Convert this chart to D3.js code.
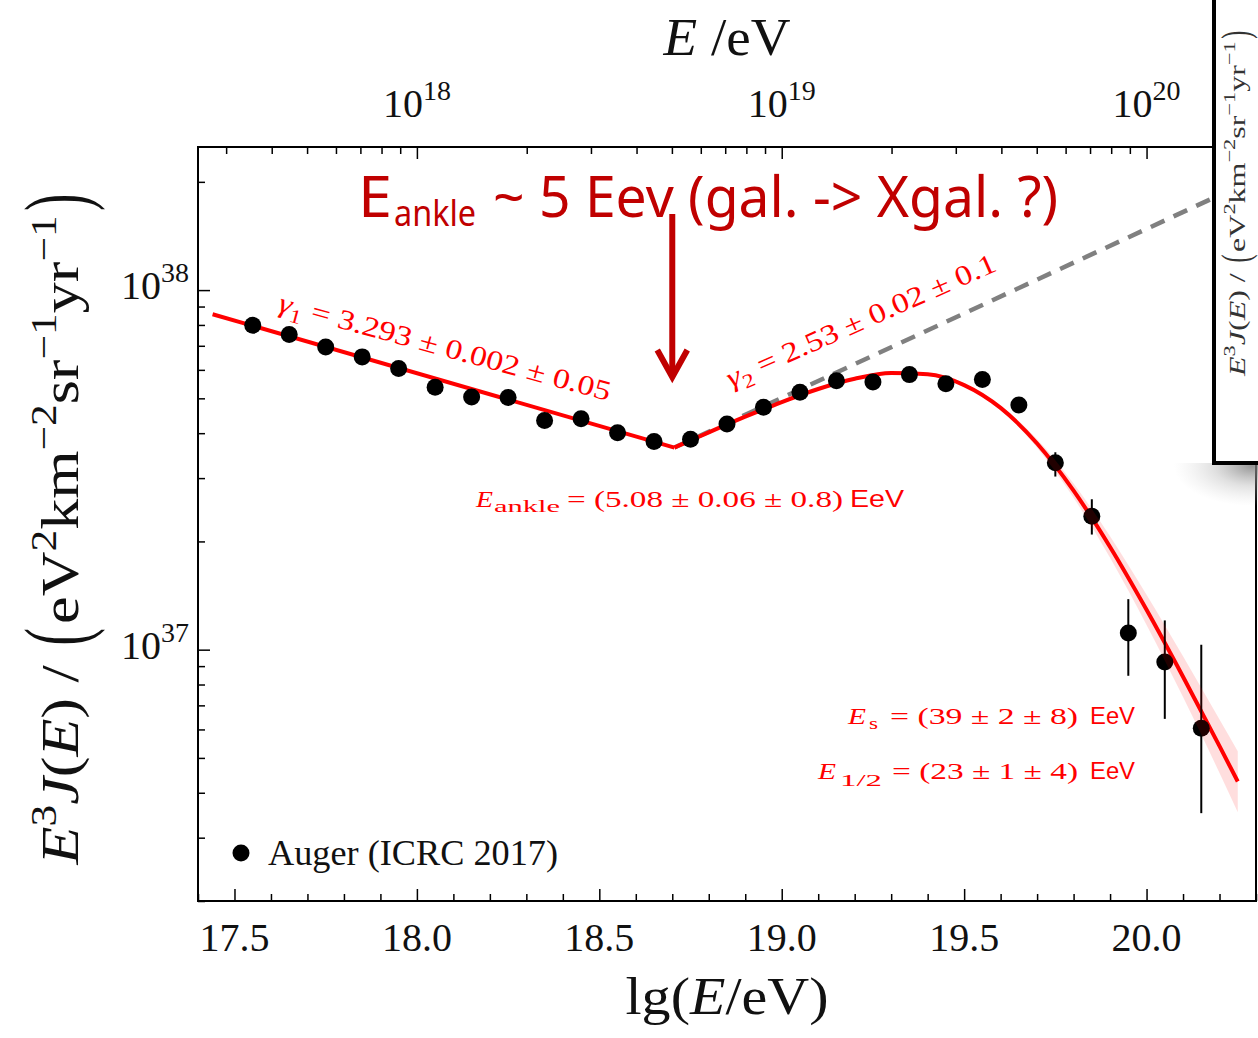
<!DOCTYPE html>
<html>
<head>
<meta charset="utf-8">
<title>Auger energy spectrum</title>
<script src="https://cdn.jsdelivr.net/npm/d3@7"></script>
<style>
  html, body { margin: 0; padding: 0; background: #fff; }
  svg { display: block; }
</style>
</head>
<body>
<svg id="chart" width="1258" height="1038" font-family="'Liberation Serif', 'DejaVu Serif', serif"></svg>
<script>
// ---- Auger (ICRC 2017) combined energy spectrum, E^3 J(E) in eV^2 km^-2 sr^-1 yr^-1 ----
const lgE = [17.55, 17.65, 17.75, 17.85, 17.95, 18.05, 18.15, 18.25, 18.35, 18.45,
             18.55, 18.65, 18.75, 18.85, 18.95, 19.05, 19.15, 19.25, 19.35, 19.45,
             19.55, 19.65, 19.75, 19.85, 19.95, 20.05, 20.15];
const e3j = [7.98e37, 7.52e37, 6.95e37, 6.52e37, 6.05e37, 5.37e37, 5.04e37, 5.03e37, 4.34e37, 4.39e37,
             4.01e37, 3.79e37, 3.85e37, 4.24e37, 4.72e37, 5.20e37, 5.60e37, 5.55e37, 5.82e37, 5.49e37,
             5.64e37, 4.79e37, 3.31e37, 2.35e37, 1.112e37, 0.924e37, 0.605e37];
const errDown = [0.03e37, 0.03e37, 0.03e37, 0.03e37, 0.03e37, 0.03e37, 0.03e37, 0.03e37, 0.03e37, 0.03e37,
                 0.03e37, 0.03e37, 0.03e37, 0.04e37, 0.05e37, 0.06e37, 0.07e37, 0.08e37, 0.09e37, 0.10e37,
                 0.12e37, 0.14e37, 0.28e37, 0.26e37, 0.266e37, 0.282e37, 0.254e37];
const errUp = [0.03e37, 0.03e37, 0.03e37, 0.03e37, 0.03e37, 0.03e37, 0.03e37, 0.03e37, 0.03e37, 0.03e37,
               0.03e37, 0.03e37, 0.03e37, 0.04e37, 0.05e37, 0.06e37, 0.07e37, 0.08e37, 0.09e37, 0.10e37,
               0.12e37, 0.14e37, 0.23e37, 0.27e37, 0.27e37, 0.282e37, 0.427e37];

// Fit: power law below the ankle
const fitLowLg = [17.44, 18.706];
const fitLowVal = [8.567e37, 3.648e37];
// Fit: harder power law above the ankle, rolling over into the suppression
const fitHighLg = [18.706, 18.75, 18.8, 18.9, 19.0, 19.1, 19.2, 19.3, 19.4, 19.5,
                   19.6, 19.7, 19.8, 19.9, 20.0, 20.1, 20.2, 20.25];
const fitHighVal = [3.648e37, 3.818e37, 4.022e37, 4.445e37, 4.882e37, 5.307e37, 5.666e37, 5.879e37, 5.834e37, 5.443e37,
                    4.703e37, 3.745e37, 2.769e37, 1.930e37, 1.291e37, 8.41e36, 5.39e36, 4.30e36];
// Uncertainty band of the suppression
const bandLg = [19.5, 19.6, 19.7, 19.8, 19.9, 20.0, 20.1, 20.2, 20.25];
const bandLow = [5.406e37, 4.638e37, 3.643e37, 2.644e37, 1.801e37, 1.172e37, 7.38e36, 4.54e36, 3.53e36];
const bandHigh = [5.483e37, 4.768e37, 3.850e37, 2.899e37, 2.068e37, 1.422e37, 9.59e36, 6.39e36, 5.22e36];
// gamma_2 power law continued without suppression
const extLg = [18.706, 20.3];
const extVal = [3.648e37, 2.047e38];

// Axis ticks and labels
const xTickValues = [17.5, 18.0, 18.5, 19.0, 19.5, 20.0];
const xTickLabels = ["17.5", "18.0", "18.5", "19.0", "19.5", "20.0"];
const topTickValues = [1e18, 1e19, 1e20];
const topTickExps = ["18", "19", "20"];
const yTickValues = [1e37, 1e38];
const yTickExps = ["37", "38"];

const RED = "#ff0000";
const DARKRED = "#c00000";
const SANS = "'Liberation Sans', 'DejaVu Sans', sans-serif";
const REMARK_FONT = "'Noto Sans', 'Open Sans', sans-serif";

const svg = d3.select("#chart");
const P = { left: 198, right: 1256, top: 147, bottom: 901 };

const x = d3.scaleLinear().domain([17.4, 20.3]).range([P.left, P.right]);
const xE = d3.scaleLog().domain([Math.pow(10, 17.4), Math.pow(10, 20.3)]).range([P.left, P.right]);
const y = d3.scaleLog().domain([2e36, 2.5e38]).range([P.bottom, P.top]);

svg.append("rect").attr("width", 1258).attr("height", 1038).attr("fill", "#fff");

const defs = svg.append("defs");
defs.append("clipPath").attr("id", "plotClip")
  .append("rect").attr("x", P.left).attr("y", P.top)
  .attr("width", P.right - P.left).attr("height", P.bottom - P.top);
defs.append("clipPath").attr("id", "shadowClip")
  .append("rect").attr("x", 1150).attr("y", 463).attr("width", 120).attr("height", 120);
const shadow = defs.append("radialGradient").attr("id", "panelShadow")
  .attr("cx", "0.5").attr("cy", "0.5").attr("r", "0.5");
shadow.append("stop").attr("offset", "0").attr("stop-color", "#7a7a7a").attr("stop-opacity", 0.8);
shadow.append("stop").attr("offset", "0.5").attr("stop-color", "#aaa").attr("stop-opacity", 0.35);
shadow.append("stop").attr("offset", "1").attr("stop-color", "#ccc").attr("stop-opacity", 0);

// ---------- ticks ----------
function styleAxis(g) {
  g.select(".domain").remove();
  g.selectAll(".tick line").attr("stroke", "#000").attr("stroke-width", 1.5);
  g.selectAll(".tick text").remove();
}
const xMinor = x.ticks(29).filter(v => !xTickValues.some(m => Math.abs(m - v) < 1e-6));
svg.append("g").attr("transform", `translate(0,${P.bottom})`)
  .call(d3.axisBottom(x).tickValues(xMinor).tickSize(-7).tickFormat(""))
  .call(styleAxis);
svg.append("g").attr("transform", `translate(0,${P.bottom})`)
  .call(d3.axisBottom(x).tickValues(xTickValues).tickSize(-12).tickFormat(""))
  .call(styleAxis);

const topMinor = xE.ticks().filter(v => !topTickValues.some(m => Math.abs(m / v - 1) < 1e-6));
svg.append("g").attr("transform", `translate(0,${P.top})`)
  .call(d3.axisTop(xE).tickValues(topMinor).tickSize(-7).tickFormat(""))
  .call(styleAxis);
svg.append("g").attr("transform", `translate(0,${P.top})`)
  .call(d3.axisTop(xE).tickValues(topTickValues).tickSize(-12).tickFormat(""))
  .call(styleAxis);

const yMinor = y.ticks().filter(v => !yTickValues.some(m => Math.abs(m / v - 1) < 1e-6));
svg.append("g").attr("transform", `translate(${P.left},0)`)
  .call(d3.axisLeft(y).tickValues(yMinor).tickSize(-7).tickFormat(""))
  .call(styleAxis);
svg.append("g").attr("transform", `translate(${P.left},0)`)
  .call(d3.axisLeft(y).tickValues(yTickValues).tickSize(-12).tickFormat(""))
  .call(styleAxis);

// ---------- tick labels ----------
const labelColor = "#111";
svg.append("g").selectAll("text").data(xTickValues).join("text")
  .attr("x", d => x(d)).attr("y", 951)
  .attr("text-anchor", "middle").attr("font-size", 40).attr("fill", labelColor)
  .text((d, i) => xTickLabels[i]);

svg.append("g").selectAll("text").data(topTickValues).join("text")
  .attr("x", d => xE(d)).attr("y", 117)
  .attr("text-anchor", "middle").attr("font-size", 40).attr("fill", labelColor)
  .each(function (d, i) {
    const t = d3.select(this);
    t.append("tspan").text("10");
    t.append("tspan").attr("dy", -17).attr("font-size", 28).text(topTickExps[i]);
  });

svg.append("g").selectAll("text").data(yTickValues).join("text")
  .attr("x", 189).attr("y", d => y(d) + 9)
  .attr("text-anchor", "end").attr("font-size", 40).attr("fill", labelColor)
  .each(function (d, i) {
    const t = d3.select(this);
    t.append("tspan").text("10");
    t.append("tspan").attr("dy", -17).attr("font-size", 28).text(yTickExps[i]);
  });

// ---------- axis titles ----------
const xTitle = svg.append("text").attr("x", 727).attr("y", 1014)
  .attr("text-anchor", "middle").attr("font-size", 52).attr("fill", labelColor)
  .attr("textLength", 203).attr("lengthAdjust", "spacingAndGlyphs");
xTitle.append("tspan").text("lg(");
xTitle.append("tspan").attr("font-style", "italic").text("E");
xTitle.append("tspan").text("/eV)");

const topTitle = svg.append("text").attr("x", 727).attr("y", 55)
  .attr("text-anchor", "middle").attr("font-size", 52).attr("fill", labelColor)
  .attr("textLength", 127).attr("lengthAdjust", "spacingAndGlyphs");
topTitle.append("tspan").attr("font-style", "italic").text("E");
topTitle.append("tspan").text(" /eV");

// E^3 J(E) / (eV^2 km^-2 sr^-1 yr^-1), rotated; the outer delimiters are drawn tall and thin
function fluxTitle(g, fs, length, color) {
  const t = g.append("text").attr("text-anchor", "middle").attr("font-size", fs).attr("fill", color)
    .attr("textLength", length).attr("lengthAdjust", "spacingAndGlyphs");
  const parts = [
    ["E", "i"], ["3", "sup"], ["J", "i"], ["(", ""], ["E", "i"], [")", ""], [" / ", ""],
    ["(", "big"], ["eV", ""], ["2", "sup"], ["km", ""], ["\u22122", "sup"], ["sr", ""],
    ["\u22121", "sup"], ["yr", ""], ["\u22121", "sup"], [")", "big"]
  ];
  let shift = 0, idx = 0;
  const delims = [];
  for (const [s, kind] of parts) {
    const ts = t.append("tspan").text(s);
    let target = 0;
    if (kind === "i") ts.attr("font-style", "italic");
    if (kind === "sup") { ts.attr("font-size", fs * 0.7); target = -fs * 0.42; }
    if (kind === "big") { ts.attr("font-size", fs * 1.25).attr("fill-opacity", 0); delims.push([idx, s]); }
    if (target !== shift) { ts.attr("dy", target - shift); shift = target; }
    idx += s.length;
  }
  const node = t.node();
  for (const [i, s] of delims) {
    const ext = node.getExtentOfChar(i);
    g.append("text").attr("font-size", fs).attr("fill", color).attr("text-anchor", "middle")
      .attr("transform", `translate(${ext.x + ext.width / 2},${fs * 0.15}) scale(1,1.7)`)
      .text(s);
  }
  return t;
}
fluxTitle(svg.append("g").attr("transform", "translate(78,527) rotate(-90)"), 52, 675, labelColor);

// ---------- plot contents ----------
const plotG = svg.append("g").attr("clip-path", "url(#plotClip)");

// gamma_2 extrapolation
plotG.append("path")
  .attr("d", d3.line().x(d => x(d[0])).y(d => y(d[1]))(d3.zip(extLg, extVal)))
  .attr("fill", "none").attr("stroke", "#808080").attr("stroke-width", 4.5)
  .attr("stroke-dasharray", "15,10");

// fit curve
plotG.append("path")
  .attr("d", d3.line().x(d => x(d[0])).y(d => y(d[1]))(d3.zip(fitLowLg, fitLowVal)))
  .attr("fill", "none").attr("stroke", RED).attr("stroke-width", 4);
plotG.append("path")
  .attr("d", d3.line().x(d => x(d[0])).y(d => y(d[1])).curve(d3.curveMonotoneX)(d3.zip(fitHighLg, fitHighVal)))
  .attr("fill", "none").attr("stroke", RED).attr("stroke-width", 4);

// data points with error bars
const pts = d3.range(lgE.length).map(i => ({ lg: lgE[i], v: e3j[i], lo: e3j[i] - errDown[i], hi: e3j[i] + errUp[i] }));
plotG.append("g").selectAll("line").data(pts).join("line")
  .attr("x1", d => x(d.lg)).attr("x2", d => x(d.lg))
  .attr("y1", d => y(d.lo)).attr("y2", d => y(d.hi))
  .attr("stroke", "#000").attr("stroke-width", 2);
plotG.append("g").selectAll("circle").data(pts).join("circle")
  .attr("cx", d => x(d.lg)).attr("cy", d => y(d.v)).attr("r", 8.5)
  .attr("fill", "#000");

// uncertainty band drawn translucent over everything
plotG.append("path")
  .attr("d", d3.area().x(d => x(d[0])).y0(d => y(d[1])).y1(d => y(d[2])).curve(d3.curveMonotoneX)(d3.zip(bandLg, bandLow, bandHigh)))
  .attr("fill", RED).attr("fill-opacity", 0.13);

// frame
svg.append("rect").attr("x", P.left).attr("y", P.top)
  .attr("width", P.right - P.left).attr("height", P.bottom - P.top)
  .attr("fill", "none").attr("stroke", "#000").attr("stroke-width", 2);

// legend
svg.append("circle").attr("cx", 241).attr("cy", 853).attr("r", 8.5).attr("fill", "#000");
svg.append("text").attr("x", 268).attr("y", 865).attr("font-size", 36).attr("fill", labelColor)
  .attr("textLength", 290).attr("lengthAdjust", "spacingAndGlyphs").text("Auger (ICRC 2017)");

// ---------- fit annotations ----------
function mathText(g, pieces, fs) {
  const t = g.append("text").attr("fill", RED).attr("font-size", fs);
  let shift = 0;
  for (const [s, kind] of pieces) {
    const ts = t.append("tspan").text(s);
    let target = 0;
    if (kind === "i") ts.attr("font-style", "italic");
    if (kind === "sub") { ts.attr("font-size", fs * 0.7); target = fs * 0.25; }
    if (target !== shift) { ts.attr("dy", target - shift); shift = target; }
  }
  return t;
}
mathText(svg.append("g").attr("transform", "translate(277,311) rotate(15.2)"),
  [["\u03B3", "i"], ["1", "sub"], [" = 3.293 \u00B1 0.002 \u00B1 0.05", ""]], 28)
  .attr("textLength", 343).attr("lengthAdjust", "spacingAndGlyphs");
mathText(svg.append("g").attr("transform", "translate(731,388) rotate(-23.8)"),
  [["\u03B3", "i"], ["2", "sub"], [" = 2.53 \u00B1 0.02 \u00B1 0.1", ""]], 28)
  .attr("textLength", 292).attr("lengthAdjust", "spacingAndGlyphs");

function eevLabel(parts) {
  for (const p of parts) {
    const t = svg.append("text").attr("x", p.x).attr("y", p.y).attr("fill", RED)
      .attr("font-size", p.fs).attr("textLength", p.w).attr("lengthAdjust", "spacingAndGlyphs")
      .text(p.s);
    if (p.italic) t.attr("font-style", "italic");
    if (p.sans) t.attr("font-family", SANS);
  }
}
eevLabel([
  { s: "E", x: 476, y: 507, fs: 24, w: 17, italic: true },
  { s: "ankle", x: 494, y: 512, fs: 17, w: 66 },
  { s: "= (5.08 \u00B1 0.06 \u00B1 0.8)", x: 567, y: 507, fs: 24, w: 276 },
  { s: "EeV", x: 850, y: 507, fs: 23, w: 54, sans: true }
]);
eevLabel([
  { s: "E", x: 848, y: 724, fs: 24, w: 18, italic: true },
  { s: "s", x: 869, y: 729, fs: 17, w: 9 },
  { s: "= (39 \u00B1 2 \u00B1 8)", x: 890, y: 724, fs: 24, w: 188 },
  { s: "EeV", x: 1090, y: 724, fs: 23, w: 45, sans: true }
]);
eevLabel([
  { s: "E", x: 818, y: 779, fs: 24, w: 18, italic: true },
  { s: "1/2", x: 840, y: 786, fs: 17, w: 42 },
  { s: "= (23 \u00B1 1 \u00B1 4)", x: 892, y: 779, fs: 24, w: 186 },
  { s: "EeV", x: 1090, y: 779, fs: 23, w: 45, sans: true }
]);

// ---------- ankle remark with arrow ----------
svg.append("text").attr("x", 358).attr("y", 217).attr("fill", DARKRED)
  .attr("font-family", REMARK_FONT).attr("font-size", 56)
  .attr("textLength", 34).attr("lengthAdjust", "spacingAndGlyphs").text("E");
svg.append("text").attr("x", 394).attr("y", 226).attr("fill", DARKRED)
  .attr("font-family", REMARK_FONT).attr("font-size", 36)
  .attr("textLength", 82).attr("lengthAdjust", "spacingAndGlyphs").text("ankle");
svg.append("text").attr("x", 493).attr("y", 217).attr("fill", DARKRED)
  .attr("font-family", REMARK_FONT).attr("font-size", 56)
  .attr("textLength", 565).attr("lengthAdjust", "spacingAndGlyphs").text("~ 5 Eev (gal. -> Xgal. ?)");

const arrowX = x(18.7);
svg.append("line").attr("x1", arrowX).attr("x2", arrowX).attr("y1", 214).attr("y2", 374)
  .attr("stroke", DARKRED).attr("stroke-width", 6);
svg.append("path")
  .attr("d", `M${arrowX - 15},350 L${arrowX},377 L${arrowX + 15},350`)
  .attr("fill", "none").attr("stroke", DARKRED).attr("stroke-width", 6)
  .attr("stroke-linejoin", "miter");

// ---------- inset panel at the top right ----------
svg.append("ellipse").attr("clip-path", "url(#shadowClip)")
  .attr("cx", 1252).attr("cy", 466).attr("rx", 78).attr("ry", 40)
  .attr("fill", "url(#panelShadow)");
svg.append("rect").attr("x", 1214).attr("y", -10).attr("width", 60).attr("height", 473)
  .attr("fill", "#fff").attr("stroke", "#000").attr("stroke-width", 4);
fluxTitle(svg.append("g").attr("transform", "translate(1245,202) rotate(-90)"), 24, 348, "#333");
</script>
</body>
</html>
